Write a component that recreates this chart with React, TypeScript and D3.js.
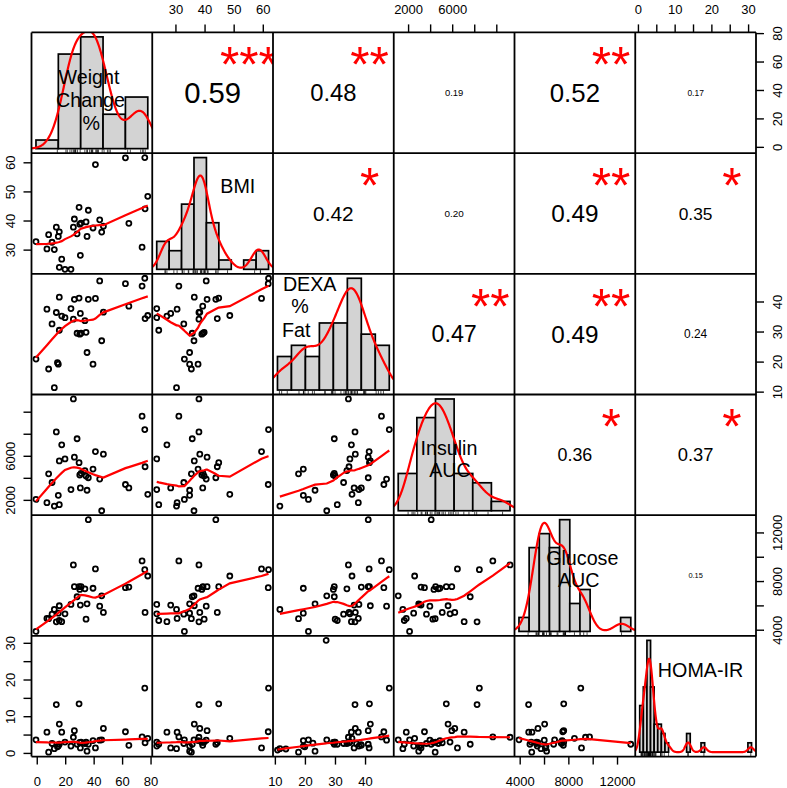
import React from "react";
import * as d3 from "d3";

// ---- data (one value per subject, NaN = missing) ----
const weightChange = [-0.9, 6.8, 8.0, 10.4, 12.0, 13.4, 14.8, 15.5, 15.5, 17.2, 19.5, 23.7, 25.4, 26.1, 28.0, 29.4, 30.3, 30.8, 34.3, 35.0, 35.9, 39.2, 40.9, 43.9, 45.3, 46.5, 62.0, 64.4, 73.7, 75.6, 75.8, 77.7, 14.2, 29.9, 33.5, NaN, NaN, NaN, NaN, NaN, NaN, NaN, NaN, NaN];
const bmi = [32.9, 30.4, 35.3, 32.7, 30.2, 37.9, 34.7, 36.3, 24.1, 26.9, 23.4, 23.4, 37.9, 40.7, 35.6, 44.7, 28.2, 39.3, 39.7, 34.7, 43.7, 37.6, 59.4, 40.4, 36.2, 38.2, 61.7, 39.2, 31.0, 61.8, 44.2, 48.5, NaN, 38.9, NaN, NaN, NaN, NaN, NaN, NaN, NaN, NaN, NaN, NaN];
const dexaFat = [21.0, 37.6, 17.7, 32.7, 11.5, 36.5, 19.3, 41.6, 30.6, 35.3, 34.8, 37.8, 34.3, 40.9, 29.6, 41.3, 36.2, 29.6, 29.9, 23.2, 40.9, 19.3, 41.2, 47.0, 27.1, 36.6, 46.1, 38.6, 45.3, 47.9, 34.5, 35.5, 19.8, 29.3, 33.8, 10.7, 13.5, 22.5, 26.9, 37.0, 38.5, NaN, NaN, NaN];
const insulinAUC = [2090, 1790, 4410, 3620, 1480, 8210, 2460, 5580, 1610, 7040, 5760, 2980, 11200, 5920, 7590, 5420, 3130, 4450, 4200, 2920, 4050, 4840, 6430, 3930, 1060, 6190, 3440, 3130, 9640, 8420, 5050, 2550, NaN, 4300, 4700, NaN, NaN, NaN, NaN, NaN, NaN, NaN, NaN, NaN];
const glucoseAUC = [3900, 4970, 4950, 5320, 5710, 4690, 5400, 6010, 4800, 4700, 5350, 6120, 9370, 7580, 6750, 7580, 6070, 7580, 4910, 6170, 13090, 7450, 9040, 5980, 6830, 5460, 7500, 7550, 9700, 8980, 5460, 8460, NaN, 7350, 7400, NaN, NaN, NaN, NaN, NaN, NaN, NaN, NaN, NaN];
const homaIR = [3.7, 5.8, 0.35, 2.7, 1.3, 13.3, 2.0, 8.0, 2.5, 5.8, 3.1, 2.0, 4.4, 6.2, 2.5, 13.5, 1.5, 3.1, 3.1, 0.6, 2.5, 3.5, 1.5, 3.6, 3.7, 6.8, 5.9, 2.2, 4.5, 17.8, 2.9, 4.1, 1.8, 3.0, 2.7, 0.9, 1.2, 2.8, 30.8, 2.6, 2.4, 0.5, 0.8, 2.3];

const varNames = [["Weight", "Change", "%"], ["BMI"], ["DEXA", "%", "Fat"], ["Insulin", "AUC"], ["Glucose", "AUC"], ["HOMA-IR"]];
const histBinWidth = [20, 5, 5, 2000, 1000, 1];
const axisTicks = [[0, 20, 40, 60, 80], [30, 40, 50, 60], [10, 20, 30, 40], [2000, 4000, 6000, 8000, 10000], [4000, 6000, 8000, 10000, 12000], [0, 5, 10, 15, 20, 25, 30]];
const axisTickLabels = [[0, 20, 40, 60, 80], [30, 40, 50, 60], [10, 20, 30, 40], [2000, 6000], [4000, 8000, 12000], [0, 10, 20, 30]];
const corrValues = [0.59, 0.48, 0.19, 0.52, 0.17, 0.42, 0.20, 0.49, 0.35, 0.47, 0.49, 0.24, 0.36, 0.37, 0.15];
const corrStars = ["***", "**", "", "**", "", "*", "", "**", "*", "**", "**", "", "*", "*", ""];

// ---- layout ----
const X0 = 31.5, Y0 = 32.4, PW = 120.75, PH = 120.7;
const FONT = "'Liberation Sans', Arial, Helvetica, sans-serif";
const LABEL_FS = 19.7;
const labelLayout = [
  [[57.5, 44.3], [59, 67.1], [59.8, 90.9]],
  [[85.55, 32.4]],
  [[36.7, 9.9], [27, 32.5], [23.3, 56.2]],
  [[55.25, 53.8], [56.25, 75.5]],
  [[67.8, 42.3], [64.2, 65.1]],
  [[65.25, 33.8]],
];

const RED = "#FF0000";

function padDomain(d: [number, number]): [number, number] {
  const r = d[1] - d[0];
  return [d[0] - 0.04 * r, d[1] + 0.04 * r];
}

// R's lowess (clowess port)
function lowess(xIn: number[], yIn: number[], f = 2 / 3, iter = 3): [number, number][] {
  const n = xIn.length;
  const order = d3.range(n).sort((a, b) => xIn[a] - xIn[b]);
  const x = order.map((i) => xIn[i]);
  const y = order.map((i) => yIn[i]);
  if (n < 2) return x.map((v, i) => [v, y[i]]);
  const delta = 0.01 * (x[n - 1] - x[0]);
  const ns = Math.max(2, Math.min(n, Math.floor(f * n + 1e-7)));
  const ys = new Array(n).fill(0);
  const rw = new Array(n).fill(1);
  const res = new Array(n).fill(0);
  const w = new Array(n).fill(0);
  const range = x[n - 1] - x[0];
  const lowest = (xs: number, nleft: number, nright: number, userw: boolean): number | null => {
    const h = Math.max(xs - x[nleft], x[nright] - xs);
    const h9 = 0.999 * h, h1 = 0.001 * h;
    let a = 0;
    let j = nleft;
    while (j < n) {
      w[j] = 0;
      const r = Math.abs(x[j] - xs);
      if (r <= h9) {
        w[j] = r <= h1 ? 1 : Math.pow(1 - Math.pow(r / h, 3), 3);
        if (userw) w[j] *= rw[j];
        a += w[j];
      } else if (x[j] > xs) break;
      j++;
    }
    const nrt = j - 1;
    if (a <= 0) return null;
    for (j = nleft; j <= nrt; j++) w[j] /= a;
    if (h > 0) {
      a = 0;
      for (j = nleft; j <= nrt; j++) a += w[j] * x[j];
      let b = xs - a;
      let c = 0;
      for (j = nleft; j <= nrt; j++) c += w[j] * (x[j] - a) * (x[j] - a);
      if (Math.sqrt(c) > 0.001 * range) {
        b /= c;
        for (j = nleft; j <= nrt; j++) w[j] *= b * (x[j] - a) + 1;
      }
    }
    let s = 0;
    for (j = nleft; j <= nrt; j++) s += w[j] * y[j];
    return s;
  };
  for (let it = 1; it <= iter + 1; it++) {
    let nleft = 0, nright = ns - 1, last = -1, i = 0;
    for (;;) {
      if (nright < n - 1) {
        const d1 = x[i] - x[nleft];
        const d2 = x[nright + 1] - x[i];
        if (d1 > d2) {
          nleft++;
          nright++;
          continue;
        }
      }
      const v = lowest(x[i], nleft, nright, it > 1);
      ys[i] = v === null ? y[i] : v;
      if (last < i - 1) {
        const denom = x[i] - x[last];
        for (let j = last + 1; j < i; j++) {
          const alpha = (x[j] - x[last]) / denom;
          ys[j] = alpha * ys[i] + (1 - alpha) * ys[last];
        }
      }
      last = i;
      const cut = x[last] + delta;
      for (i = last + 1; i < n; i++) {
        if (x[i] > cut) break;
        if (x[i] === x[last]) {
          ys[i] = ys[last];
          last = i;
        }
      }
      i = Math.max(last + 1, i - 1);
      if (last >= n - 1) break;
    }
    for (let k = 0; k < n; k++) res[k] = y[k] - ys[k];
    if (it > iter) break;
    const sc = d3.sum(res, (r) => Math.abs(r)) / n;
    const absr = res.map((r) => Math.abs(r)).sort((a, b) => a - b);
    const m1 = Math.floor(n / 2);
    const cmad = n % 2 === 0 ? 3 * (absr[m1 - 1] + absr[m1]) : 6 * absr[m1];
    if (cmad < 1e-7 * sc) break;
    const c9 = 0.999 * cmad, c1 = 0.001 * cmad;
    for (let k = 0; k < n; k++) {
      const r = Math.abs(res[k]);
      rw[k] = r <= c1 ? 1 : r > c9 ? 0 : Math.pow(1 - (r / cmad) * (r / cmad), 2);
    }
  }
  return x.map((v, k) => [v, ys[k]] as [number, number]);
}

// R's density() with bw.nrd0 and gaussian kernel
function kde(vals: number[]): [number, number][] {
  const s = vals.slice().sort((a, b) => a - b);
  const n = s.length;
  const sd = d3.deviation(s) || 0;
  const iqr = (d3.quantileSorted(s, 0.75) as number) - (d3.quantileSorted(s, 0.25) as number);
  let lo = Math.min(sd, iqr / 1.34);
  if (!(lo > 0)) lo = sd || Math.abs(s[0]) || 1;
  const bw = 0.9 * lo * Math.pow(n, -0.2);
  const from = s[0] - 3 * bw, to = s[n - 1] + 3 * bw;
  const c = 1 / (n * bw * Math.sqrt(2 * Math.PI));
  return d3.range(512).map((k) => {
    const xv = from + ((to - from) * k) / 511;
    let sum = 0;
    for (const t of s) {
      const z = (xv - t) / bw;
      sum += Math.exp(-0.5 * z * z);
    }
    return [xv, sum * c] as [number, number];
  });
}

// R's hist(probability = TRUE), right-closed bins
function histogram(vals: number[], width: number) {
  const lo = Math.floor(d3.min(vals)! / width) * width;
  const hi = Math.ceil(d3.max(vals)! / width) * width;
  const nb = Math.round((hi - lo) / width);
  const breaks = d3.range(nb + 1).map((k) => lo + k * width);
  const counts = new Array(nb).fill(0);
  const fuzz = 1e-7 * width;
  for (const v of vals) {
    let b = 0;
    while (b < nb - 1 && v > breaks[b + 1] + fuzz) b++;
    counts[b]++;
  }
  const dens = counts.map((c) => c / (vals.length * width));
  return { breaks, counts, dens };
}

export default function App() {
  const W = 787, H = 788;
  const vars = [weightChange, bmi, dexaFat, insulinAUC, glucoseAUC, homaIR];
  const N = vars.length;
  const fin = (v: number) => Number.isFinite(v);
  const doms = vars.map((v) => padDomain(d3.extent(v.filter(fin)) as [number, number]));
  const xs = doms.map((d) => d3.scaleLinear().domain(d).range([0, PW]));
  const ys = doms.map((d) => d3.scaleLinear().domain(d).range([PH, 0]));
  const px = (j: number) => X0 + j * PW;
  const py = (i: number) => Y0 + i * PH;
  const corrFs = (0.8 * PW) / 1.946; // font size making "0.xx" span 80% of the panel at |r| = 1

  const corrIndex = (i: number, j: number) => {
    let idx = 0;
    for (let r = 0; r < i; r++) idx += N - 1 - r;
    return idx + (j - i - 1);
  };

  const panels: React.ReactNode[] = [];
  for (let i = 0; i < N; i++) {
    for (let j = 0; j < N; j++) {
      const key = `p${i}-${j}`;
      let content: React.ReactNode = null;
      if (i === j) {
        const vals = vars[i].filter(fin);
        const h = histogram(vals, histBinWidth[i]);
        const hx = d3.scaleLinear().domain(padDomain([h.breaks[0], h.breaks[h.breaks.length - 1]])).range([0, PW]);
        const maxD = d3.max(h.dens)!;
        const hy = d3.scaleLinear().domain(padDomain([0, maxD])).range([PH, 0]);
        const dens = kde(vals);
        const dline = d3.line<[number, number]>().x((d) => hx(d[0])).y((d) => hy(d[1]));
        content = (
          <g>
            {h.dens.map((dv, b) => (
              <rect
                key={b}
                x={hx(h.breaks[b])}
                y={hy(dv)}
                width={hx(h.breaks[b + 1]) - hx(h.breaks[b])}
                height={hy(0) - hy(dv)}
                fill="#D3D3D3"
                stroke="#000"
                strokeWidth={1.7}
              />
            ))}
            <path d={dline(dens) || ""} fill="none" stroke={RED} strokeWidth={2.2} />
            {vals.map((v, k) => (
              <line key={`r${k}`} x1={hx(v)} x2={hx(v)} y1={PH} y2={PH - 0.03 * PH} stroke="#000" strokeWidth={0.7} />
            ))}
            {varNames[i].map((t, l) => (
              <text
                key={`t${l}`}
                x={labelLayout[i][l][0]}
                y={labelLayout[i][l][1] + 0.358 * LABEL_FS}
                fontSize={LABEL_FS}
                textAnchor="middle"
                fill="#000"
              >
                {t}
              </text>
            ))}
          </g>
        );
      } else if (i > j) {
        const idx = d3.range(vars[0].length).filter((k) => fin(vars[j][k]) && fin(vars[i][k]));
        const lx = idx.map((k) => vars[j][k]);
        const ly = idx.map((k) => vars[i][k]);
        const sm = lowess(lx, ly);
        const sline = d3.line<[number, number]>().x((d) => xs[j](d[0])).y((d) => ys[i](d[1]));
        content = (
          <g>
            {idx.map((k) => (
              <circle key={k} cx={xs[j](vars[j][k])} cy={ys[i](vars[i][k])} r={2.5} fill="none" stroke="#000" strokeWidth={1.8} />
            ))}
            <path d={sline(sm) || ""} fill="none" stroke={RED} strokeWidth={2.2} />
          </g>
        );
      } else {
        const ci = corrIndex(i, j);
        const r = corrValues[ci];
        const fs = corrFs * Math.abs(r);
        content = (
          <g>
            <text x={0.5 * PW} y={0.5 * PH + 0.358 * fs} fontSize={fs} textAnchor="middle" fill="#000">
              {r.toFixed(2)}
            </text>
            {corrStars[ci] && (
              <text x={0.8 * PW} y={0.2 * PH + 0.52 * corrFs} fontSize={corrFs} textAnchor="middle" fill={RED}>
                {corrStars[ci]}
              </text>
            )}
          </g>
        );
      }
      panels.push(
        <svg key={key} x={px(j)} y={py(i)} width={PW} height={PH} overflow="hidden">
          {content}
        </svg>
      );
    }
  }

  // grid borders
  const grid: React.ReactNode[] = [];
  for (let k = 0; k <= N; k++) {
    grid.push(<line key={`v${k}`} x1={px(k)} x2={px(k)} y1={Y0} y2={py(N)} stroke="#000" strokeWidth={1.8} />);
    grid.push(<line key={`h${k}`} x1={X0} x2={px(N)} y1={py(k)} y2={py(k)} stroke="#000" strokeWidth={1.8} />);
  }

  // axes
  const axes: React.ReactNode[] = [];
  const TL = 8;
  for (let j = 0; j < N; j++) {
    const top = j % 2 === 1;
    const y0 = top ? Y0 : py(N);
    const dir = top ? -1 : 1;
    axisTicks[j].forEach((t) => {
      const x = px(j) + xs[j](t);
      axes.push(<line key={`xt${j}-${t}`} x1={x} x2={x} y1={y0} y2={y0 + dir * TL} stroke="#000" strokeWidth={1.4} />);
    });
    axisTickLabels[j].forEach((t) => {
      const x = px(j) + xs[j](t);
      axes.push(
        <text key={`xl${j}-${t}`} x={x} y={top ? 13.8 : 785.5} fontSize={13} textAnchor="middle" fill="#000">
          {String(t)}
        </text>
      );
    });
  }
  for (let i = 0; i < N; i++) {
    const left = i % 2 === 1;
    const x0 = left ? X0 : px(N);
    const dir = left ? -1 : 1;
    axisTicks[i].forEach((t) => {
      const y = py(i) + ys[i](t);
      axes.push(<line key={`yt${i}-${t}`} x1={x0} x2={x0 + dir * TL} y1={y} y2={y} stroke="#000" strokeWidth={1.4} />);
    });
    axisTickLabels[i].forEach((t) => {
      const y = py(i) + ys[i](t);
      const bx = left ? 14.7 : 782;
      axes.push(
        <text
          key={`yl${i}-${t}`}
          x={bx}
          y={y}
          fontSize={13}
          textAnchor="middle"
          transform={`rotate(-90 ${bx} ${y})`}
          fill="#000"
        >
          {String(t)}
        </text>
      );
    });
  }

  return (
    <svg
      width={W}
      height={H}
      style={{ position: "absolute", left: 0, top: 0, background: "#fff" }}
      fontFamily={FONT}
    >
      <rect width={W} height={H} fill="#fff" />
      {panels}
      {grid}
      {axes}
    </svg>
  );
}
